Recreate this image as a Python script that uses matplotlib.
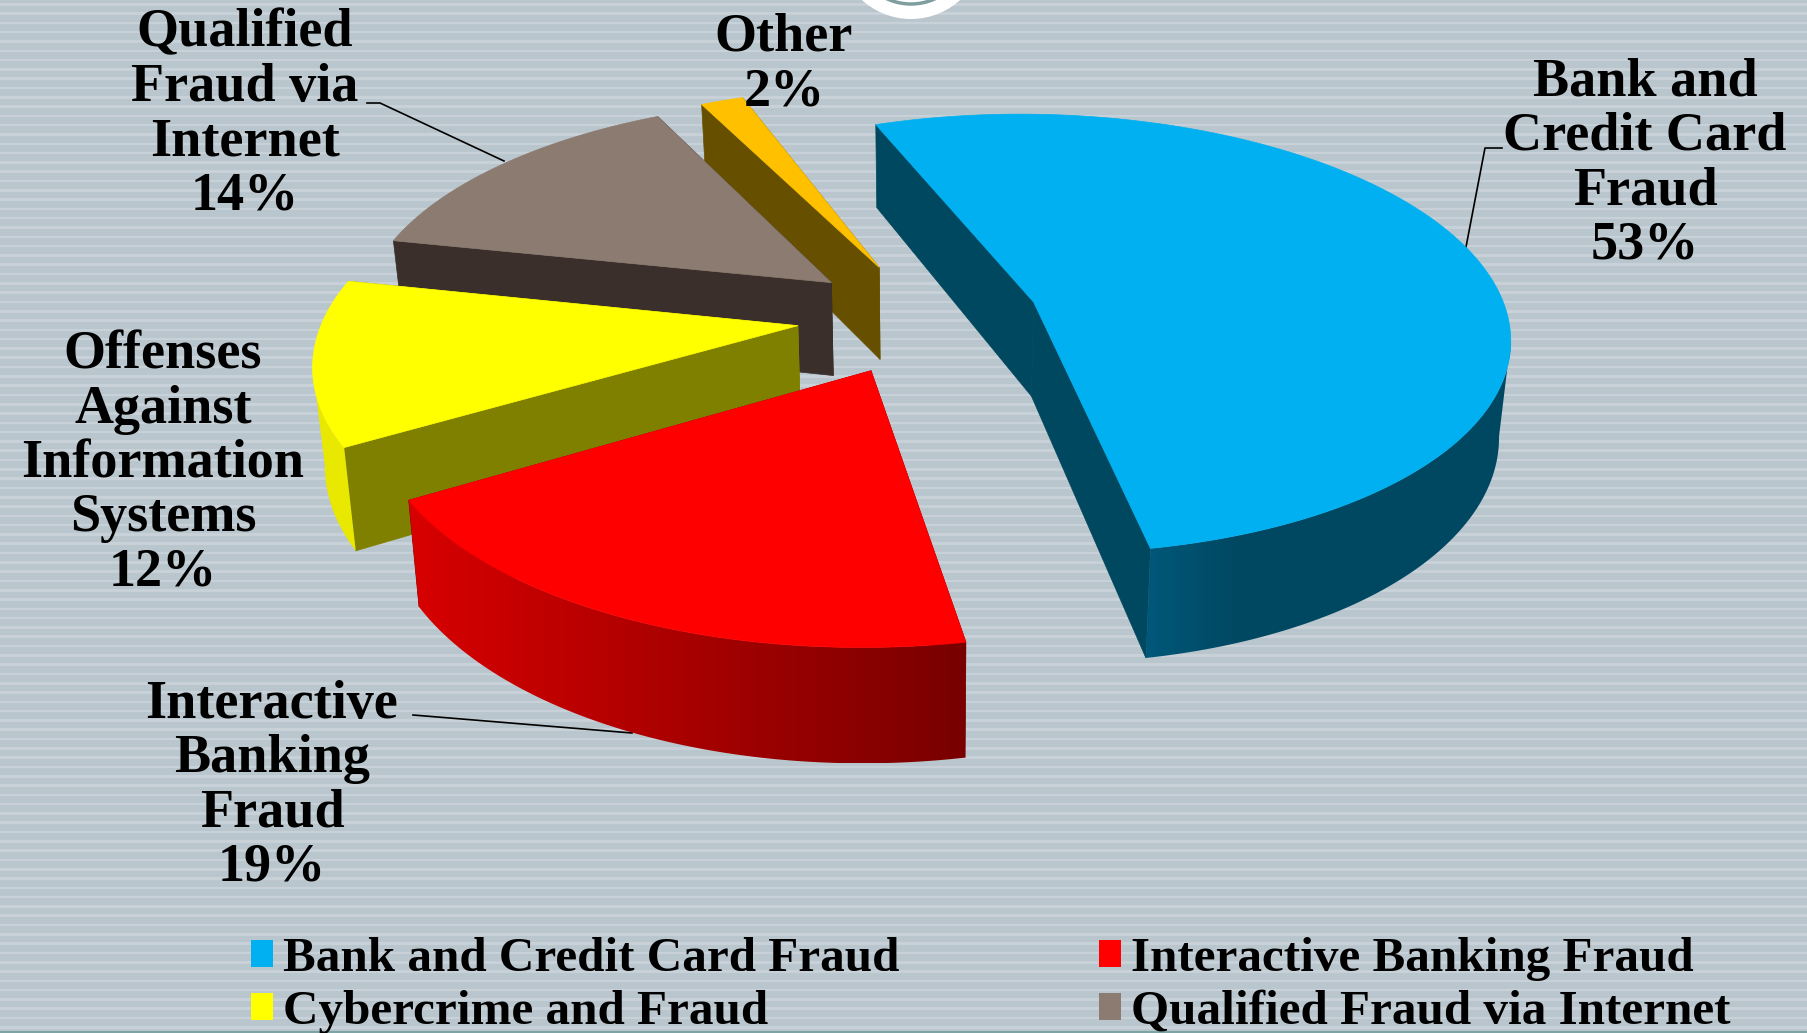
import numpy as np
import matplotlib
matplotlib.use('Agg')
import matplotlib.pyplot as plt
from matplotlib.colors import to_rgb
from matplotlib.patches import Polygon, Circle, Patch

# data
slices = ['Bank and Credit Card Fraud', 'Interactive Banking Fraud', 'Cybercrime and Fraud',
          'Qualified Fraud via Internet', 'Other']
values = [52.8, 19.4, 11.8, 14.3, 1.7]
legend_order = [0, 2, 1, 3]

# look
top_colors = ['#00B0F0', '#FF0000', '#FFFF00', '#8B7B70', '#FFC000']
face_colors = ['#00485F', '#800000', '#808000', '#3A2F2A', '#665000']
rim_left = ['#00587A', '#D80000', '#E8E800', '#3A2F2A', '#665000']
rim_right = ['#004862', '#780000', '#E8E800', '#3A2F2A', '#665000']
explode = [0.24, 0.265, 0.27, 0.255, 0.25]
draw_order = [4, 3, 2, 1, 0]

# projection of the pie plane, in pixels
start_angle = -20.5
cx, cy = 925, 316
sx, sy = 474, 219
persp = 0.145
depth = 95
bottom_shrink = 0.98


def project(x, y, bottom=False):
    w = 1 - persp * y
    px = cx + sx * x / w
    py = cy + sy * y / w
    if bottom:
        py = py + depth / w
        px = cx + (px - cx) * bottom_shrink
    return px, py


def slice_outline(a0, a1, off):
    t = np.radians(np.linspace(a0, a1, 200))
    return off[0] + np.sin(t), off[1] - np.cos(t), t


fig = plt.figure(figsize=(18.08, 10.33), dpi=100)
ax = fig.add_axes([0, 0, 1, 1])
fig.patch.set_facecolor('#BAC6CD')

# striped background
for y in np.arange(3, 1033, 9.3):
    ax.axhspan(y, y + 2.6, color='#C8D1D7', lw=0, zorder=0)
ax.axhline(1032, color='#7EA3A5', lw=1.5, zorder=1)

# ring cut off at the top of the slide
ax.add_patch(Circle((911, -54), 73, fc='white', ec='none', zorder=1))
ax.add_patch(Circle((911, -54), 58, fc='none', ec='#7F9F9F', lw=2.5, zorder=1))

# wedges
angles = start_angle + np.concatenate([[0], np.cumsum(values)]) * 3.6
z = 2
for i in draw_order:
    a0, a1 = angles[i], angles[i + 1]
    mid = np.radians((a0 + a1) / 2)
    off = (explode[i] * np.sin(mid), -explode[i] * np.cos(mid))
    ox, oy, t = slice_outline(a0, a1, off)

    # two radial faces
    for k in (-1, 0):
        xs = np.array([off[0], ox[k]])
        ys = np.array([off[1], oy[k]])
        tx, ty = project(xs, ys)
        bx, by = project(xs, ys, bottom=True)
        pts = np.column_stack([np.r_[tx, bx[::-1]], np.r_[ty, by[::-1]]])
        ax.add_patch(Polygon(pts, fc=face_colors[i], ec=face_colors[i], lw=0.5, zorder=z))
        z += 1

    # rim between the outline's right and left extremes, shaded along x
    tx, ty = project(ox, oy)
    bx, by = project(ox, oy, bottom=True)
    lo = np.argmax(tx) if t[0] < np.pi else 0
    hi = np.argmin(tx) if t[-1] > np.pi else len(t) - 1
    if lo < hi:
        pts = np.column_stack([np.r_[tx[lo:hi + 1], bx[lo:hi + 1][::-1]],
                               np.r_[ty[lo:hi + 1], by[lo:hi + 1][::-1]]])
        clip = Polygon(pts, transform=ax.transData, fc='none', ec='none')
        ax.add_patch(clip)
        x0, x1 = pts[:, 0].min(), pts[:, 0].max()
        xx = np.linspace(x0, x1, 256)
        span = 90 if i == 0 else x1 - x0
        f = np.clip((xx - x0) / span, 0, 1)[:, None]
        ramp = np.array(to_rgb(rim_left[i])) * (1 - f) + np.array(to_rgb(rim_right[i])) * f
        im = ax.imshow(ramp[None, :, :], extent=(x0, x1, pts[:, 1].max(), pts[:, 1].min()),
                       aspect='auto', zorder=z, interpolation='bilinear')
        im.set_clip_path(clip)
        z += 1

    # top
    px, py = project(np.r_[off[0], ox], np.r_[off[1], oy])
    ax.add_patch(Polygon(np.column_stack([px, py]), fc=top_colors[i], ec=top_colors[i], lw=0.5, zorder=z))
    z += 1

ax.set_xlim(0, 1808)
ax.set_ylim(1033, 0)
ax.axis('off')

# labels
font = dict(family='Liberation Serif', weight='bold', color='black')
labels = [
    ('Bank and\nCredit Card\nFraud\n53%', 1645, 164),
    ('Interactive\nBanking\nFraud\n19%', 272, 786),
    ('Offenses\nAgainst\nInformation\nSystems\n12%', 163, 464),
    ('Qualified\nFraud via\nInternet\n14%', 245, 115),
    ('Other\n2%', 784, 65),
]
for txt, x, y in labels:
    ax.text(x, y, txt, ha='center', va='center', fontsize=39, linespacing=1.11, zorder=50, **font)

# leader lines
leaders = [
    ([1466, 1485, 1502], [247, 148, 148]),
    ([504, 380, 367], [161, 103, 103]),
    ([632, 413], [733, 715]),
]
for lx, ly in leaders:
    ax.plot(lx, ly, color='black', lw=1.2, zorder=1)

# legend
handles = [Patch(fc=top_colors[i], ec='none') for i in legend_order]
names = [slices[i] for i in legend_order]
ax.legend(handles, names, ncol=2, frameon=False, loc='upper left', bbox_to_anchor=(251 / 1808, 1 - 937 / 1033),
          bbox_transform=ax.transAxes, prop=dict(family='Liberation Serif', weight='bold', size=35.4),
          handlelength=0.45, handleheight=0.45, handletextpad=0.21, columnspacing=4.05,
          labelspacing=0.18, borderpad=0, borderaxespad=0)

fig.savefig('out.png', dpi=100, facecolor=fig.get_facecolor())
plt.close()
